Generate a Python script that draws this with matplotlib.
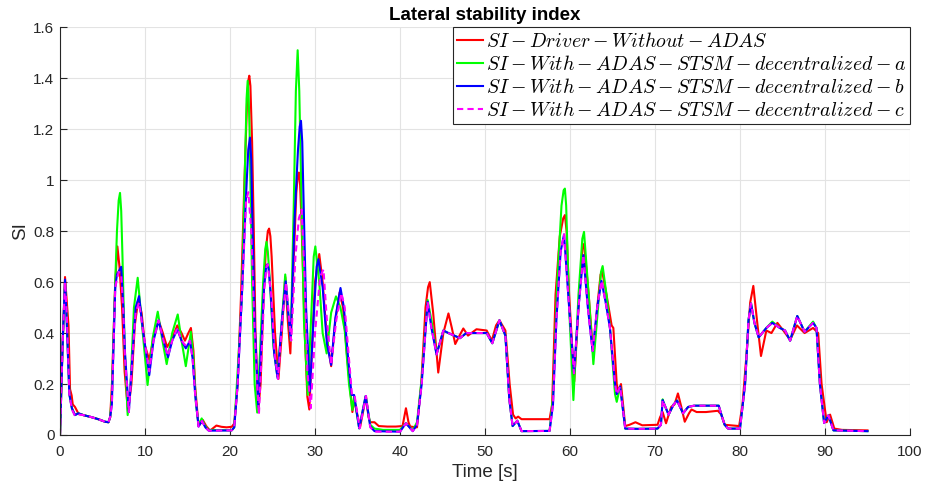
import numpy as np
from matplotlib import pyplot as plt

# ---- data: [time (s), SI] ----
red_pts = np.array([
    [0, 0], [0.3, 0.35], [0.59, 0.62], [0.8, 0.52], [1.0, 0.43], [1.18, 0.18], [1.37, 0.155],
    [1.5, 0.12], [1.76, 0.11], [2.15, 0.085], [2.75, 0.078], [3.7, 0.07], [4.5, 0.062],
    [5.3, 0.052], [5.7, 0.05], [5.9, 0.07], [6.1, 0.19], [6.3, 0.4], [6.5, 0.6], [6.75, 0.74],
    [7.0, 0.66], [7.3, 0.5], [7.6, 0.25], [8.0, 0.09], [8.4, 0.2], [8.8, 0.43], [9.2, 0.53],
    [9.6, 0.48], [10.0, 0.35], [10.5, 0.295], [11.0, 0.38], [11.6, 0.45], [12.1, 0.4],
    [12.6, 0.345], [13.2, 0.38], [13.8, 0.43], [14.3, 0.4], [14.7, 0.37], [15.1, 0.4],
    [15.4, 0.42], [15.7, 0.33], [15.9, 0.19], [16.3, 0.035], [16.8, 0.059], [17.2, 0.035],
    [17.65, 0.017], [18.4, 0.037], [19.0, 0.032], [19.6, 0.03], [20.2, 0.032], [20.5, 0.045],
    [20.9, 0.2], [21.3, 0.55], [21.7, 1.0], [22.0, 1.3], [22.15, 1.39], [22.27, 1.41],
    [22.4, 1.37], [22.6, 1.15], [22.8, 0.8], [23.0, 0.4], [23.33, 0.1], [23.6, 0.2],
    [23.9, 0.5], [24.2, 0.72], [24.45, 0.8], [24.6, 0.81], [24.75, 0.78], [24.9, 0.7],
    [25.3, 0.4], [25.7, 0.22], [26.1, 0.4], [26.5, 0.62], [26.8, 0.45], [27.1, 0.32],
    [27.4, 0.6], [27.8, 0.95], [27.95, 1.01], [28.1, 1.03], [28.25, 0.98], [28.4, 0.85],
    [28.8, 0.4], [29.1, 0.15], [29.33, 0.1], [29.6, 0.3], [30.0, 0.6], [30.5, 0.71],
    [30.9, 0.6], [31.4, 0.38], [31.9, 0.27], [32.4, 0.45], [32.9, 0.56], [33.3, 0.5],
    [33.8, 0.3], [34.4, 0.09], [34.6, 0.14], [35.3, 0.03], [36.0, 0.15], [36.3, 0.07],
    [36.5, 0.05], [37.0, 0.05], [37.5, 0.035], [38.5, 0.033], [39.5, 0.033], [40.3, 0.035],
    [40.7, 0.105], [41.0, 0.05], [41.2, 0.033], [42.0, 0.03], [42.5, 0.2], [43.0, 0.5],
    [43.3, 0.58], [43.5, 0.6], [43.9, 0.48], [44.5, 0.245], [45.1, 0.4], [45.7, 0.477],
    [46.1, 0.42], [46.5, 0.357], [47.0, 0.39], [47.45, 0.418], [48.0, 0.39], [49.0, 0.415],
    [50.2, 0.41], [50.8, 0.37], [51.3, 0.43], [51.7, 0.45], [52.4, 0.41], [52.9, 0.2],
    [53.3, 0.08], [53.6, 0.065], [53.9, 0.072], [54.3, 0.062], [55.0, 0.062], [57.6, 0.062],
    [57.9, 0.12], [58.3, 0.55], [58.8, 0.78], [59.2, 0.85], [59.4, 0.863], [59.6, 0.8],
    [59.9, 0.55], [60.5, 0.21], [61.0, 0.5], [61.45, 0.73], [61.65, 0.75], [62.2, 0.55],
    [62.75, 0.307], [63.2, 0.5], [63.6, 0.63], [63.8, 0.64], [64.3, 0.55], [64.9, 0.43],
    [65.1, 0.42], [65.5, 0.2], [65.7, 0.17], [66.0, 0.2], [66.5, 0.035], [67.0, 0.04],
    [67.7, 0.05], [68.5, 0.038], [70.3, 0.04], [70.6, 0.07], [70.9, 0.09], [71.3, 0.046],
    [71.9, 0.11], [72.3, 0.12], [72.7, 0.163], [73.1, 0.11], [73.5, 0.052], [74.0, 0.085],
    [74.3, 0.1], [74.9, 0.09], [76.0, 0.09], [77.4, 0.095], [77.8, 0.08], [78.2, 0.04],
    [79.9, 0.035], [80.3, 0.12], [80.8, 0.33], [81.2, 0.52], [81.57, 0.585], [82.0, 0.45],
    [82.47, 0.31], [83.1, 0.41], [83.7, 0.40], [84.4, 0.44], [85.1, 0.41], [85.9, 0.373],
    [86.7, 0.43], [87.6, 0.40], [88.6, 0.42], [89.2, 0.40], [89.6, 0.2], [90.2, 0.05],
    [90.6, 0.08], [91.1, 0.025], [92.0, 0.02], [95.0, 0.018],
])

green_pts = np.array([
    [0, 0], [0.3, 0.35], [0.59, 0.6], [0.8, 0.45], [1.1, 0.16], [1.4, 0.105], [1.76, 0.078],
    [2.15, 0.085], [2.75, 0.078], [3.7, 0.07], [4.5, 0.062], [5.3, 0.052], [5.7, 0.05],
    [5.9, 0.07], [6.1, 0.15], [6.4, 0.5], [6.7, 0.8], [6.9, 0.92], [7.06, 0.95], [7.2, 0.88],
    [7.35, 0.7], [7.6, 0.35], [7.96, 0.078], [8.3, 0.2], [8.7, 0.5], [9.14, 0.617],
    [9.6, 0.45], [10.3, 0.196], [10.9, 0.38], [11.5, 0.484], [12.0, 0.38], [12.55, 0.278],
    [13.2, 0.4], [13.85, 0.473], [14.3, 0.37], [14.8, 0.27], [15.4, 0.405], [15.7, 0.3],
    [16.0, 0.12], [16.3, 0.04], [16.67, 0.065], [17.0, 0.04], [17.4, 0.02], [20.2, 0.018],
    [20.5, 0.03], [20.9, 0.25], [21.4, 0.54], [21.8, 1.1], [21.95, 1.32], [22.08, 1.39],
    [22.2, 1.32], [22.3, 1.2], [22.6, 0.6], [22.9, 0.2], [23.2, 0.088], [23.5, 0.3],
    [23.9, 0.6], [24.15, 0.73], [24.3, 0.758], [24.45, 0.72], [24.7, 0.6], [25.1, 0.35],
    [25.57, 0.23], [26.0, 0.4], [26.5, 0.63], [26.8, 0.5], [27.14, 0.37], [27.5, 0.9],
    [27.75, 1.35], [27.96, 1.51], [28.15, 1.35], [28.3, 1.1], [28.7, 0.45], [29.14, 0.157],
    [29.6, 0.5], [29.85, 0.7], [30.04, 0.74], [30.5, 0.6], [30.9, 0.4], [31.37, 0.32],
    [31.9, 0.48], [32.47, 0.544], [33.0, 0.5], [33.5, 0.41], [34.0, 0.2], [34.4, 0.098],
    [34.6, 0.15], [35.2, 0.026], [35.96, 0.153], [36.5, 0.04], [37.0, 0.025], [38.0, 0.02],
    [40.0, 0.02], [40.7, 0.046], [41.5, 0.018], [42.0, 0.05], [42.55, 0.22], [43.25, 0.53],
    [43.7, 0.45], [44.3, 0.316], [45.1, 0.41], [45.7, 0.40], [47.06, 0.38], [47.8, 0.40],
    [49.0, 0.40], [50.2, 0.40], [50.86, 0.36], [51.7, 0.45], [52.4, 0.39], [52.86, 0.14],
    [53.25, 0.035], [53.8, 0.056], [54.3, 0.015], [57.6, 0.016], [58.0, 0.15], [58.5, 0.6],
    [59.0, 0.9], [59.25, 0.96], [59.4, 0.967], [59.55, 0.9], [59.9, 0.5], [60.4, 0.137],
    [61.0, 0.55], [61.45, 0.77], [61.65, 0.797], [62.2, 0.55], [62.75, 0.278], [63.3, 0.5],
    [63.65, 0.64], [63.84, 0.663], [64.3, 0.55], [64.7, 0.42], [65.3, 0.16], [65.5, 0.13],
    [65.9, 0.19], [66.5, 0.025], [68.0, 0.024], [70.3, 0.025], [70.7, 0.04], [70.9, 0.14],
    [71.1, 0.12], [71.6, 0.08], [72.2, 0.12], [72.6, 0.135], [73.3, 0.085], [73.9, 0.11],
    [74.6, 0.115], [77.5, 0.115], [77.9, 0.07], [78.2, 0.04], [78.6, 0.025], [80.0, 0.025],
    [80.6, 0.2], [81.0, 0.45], [81.3, 0.516], [81.7, 0.44], [82.2, 0.383], [83.1, 0.42],
    [83.8, 0.445], [84.7, 0.42], [85.3, 0.41], [85.9, 0.37], [86.74, 0.467], [87.6, 0.405],
    [88.6, 0.445], [89.0, 0.42], [89.4, 0.2], [89.9, 0.047], [90.4, 0.077], [91.0, 0.018],
    [95.0, 0.015],
])

blue_pts = np.array([
    [0, 0], [0.3, 0.35], [0.59, 0.61], [0.78, 0.45], [1.1, 0.16], [1.4, 0.105], [1.76, 0.078],
    [2.15, 0.085], [2.75, 0.078], [3.7, 0.07], [4.5, 0.062], [5.3, 0.052], [5.7, 0.05],
    [5.9, 0.07], [6.1, 0.12], [6.5, 0.58], [6.7, 0.63], [7.2, 0.66], [7.45, 0.5],
    [7.65, 0.32], [8.1, 0.09], [8.5, 0.3], [8.9, 0.5], [9.3, 0.545], [9.8, 0.4],
    [10.5, 0.235], [11.0, 0.37], [11.6, 0.45], [12.1, 0.38], [12.7, 0.305], [13.2, 0.37],
    [13.8, 0.414], [14.3, 0.37], [14.8, 0.34], [15.3, 0.37], [15.6, 0.3], [15.9, 0.16],
    [16.3, 0.033], [16.7, 0.055], [17.1, 0.03], [17.5, 0.017], [20.2, 0.018], [20.5, 0.03],
    [20.9, 0.2], [21.4, 0.55], [21.9, 0.95], [22.15, 1.12], [22.35, 1.167], [22.5, 1.08],
    [22.6, 0.9], [22.9, 0.45], [23.33, 0.11], [23.6, 0.3], [24.0, 0.58], [24.25, 0.66],
    [24.4, 0.67], [24.55, 0.65], [24.8, 0.55], [25.2, 0.32], [25.6, 0.223], [26.1, 0.45],
    [26.55, 0.603], [26.85, 0.48], [27.14, 0.374], [27.6, 0.85], [28.0, 1.12], [28.2, 1.21],
    [28.35, 1.233], [28.5, 1.15], [28.6, 1.0], [28.95, 0.5], [29.4, 0.17], [29.9, 0.5],
    [30.2, 0.66], [30.4, 0.69], [30.9, 0.58], [31.4, 0.36], [31.9, 0.275], [32.4, 0.46],
    [33.0, 0.577], [33.4, 0.5], [33.9, 0.3], [34.3, 0.157], [34.6, 0.157], [35.2, 0.026],
    [35.96, 0.153], [36.5, 0.033], [37.0, 0.015], [40.0, 0.013], [40.7, 0.046], [41.5, 0.015],
    [42.0, 0.04], [42.55, 0.2], [43.25, 0.523], [43.7, 0.42], [44.3, 0.316], [45.1, 0.41],
    [45.7, 0.40], [47.06, 0.38], [47.8, 0.40], [49.0, 0.40], [50.2, 0.40], [50.86, 0.36],
    [51.7, 0.45], [52.4, 0.39], [52.86, 0.14], [53.25, 0.035], [53.8, 0.056], [54.3, 0.015],
    [57.6, 0.016], [58.0, 0.12], [58.4, 0.45], [58.9, 0.72], [59.3, 0.787], [59.9, 0.5],
    [60.47, 0.242], [61.0, 0.5], [61.57, 0.706], [62.1, 0.5], [62.66, 0.33], [63.2, 0.5],
    [63.7, 0.605], [64.2, 0.52], [64.7, 0.42], [65.3, 0.2], [65.5, 0.16], [65.9, 0.19],
    [66.5, 0.025], [68.0, 0.024], [70.3, 0.025], [70.7, 0.04], [70.9, 0.137], [71.1, 0.12],
    [71.6, 0.08], [72.2, 0.12], [72.6, 0.135], [73.3, 0.085], [73.9, 0.11], [74.6, 0.115],
    [77.5, 0.115], [77.9, 0.07], [78.2, 0.04], [78.6, 0.025], [80.0, 0.025], [80.6, 0.2],
    [81.0, 0.45], [81.3, 0.516], [81.7, 0.44], [82.2, 0.383], [83.1, 0.42], [83.8, 0.44],
    [84.7, 0.42], [85.3, 0.41], [85.9, 0.37], [86.74, 0.467], [87.6, 0.405], [88.6, 0.44],
    [89.0, 0.42], [89.4, 0.2], [89.9, 0.047], [90.4, 0.077], [91.0, 0.018], [95.0, 0.015],
])

magenta_pts = np.array([
    [0, 0], [0.3, 0.35], [0.59, 0.6], [0.8, 0.47], [1.1, 0.16], [1.4, 0.1], [1.76, 0.075],
    [2.15, 0.08], [2.75, 0.078], [3.7, 0.07], [4.5, 0.062], [5.3, 0.052], [5.7, 0.05],
    [5.9, 0.07], [6.1, 0.12], [6.5, 0.58], [6.9, 0.64], [7.2, 0.63], [7.45, 0.48],
    [7.65, 0.3], [8.1, 0.09], [8.5, 0.3], [8.9, 0.48], [9.3, 0.52], [9.8, 0.4],
    [10.5, 0.25], [11.0, 0.37], [11.6, 0.45], [12.1, 0.38], [12.7, 0.31], [13.2, 0.37],
    [13.8, 0.42], [14.3, 0.37], [14.8, 0.35], [15.3, 0.37], [15.6, 0.3], [15.9, 0.16],
    [16.3, 0.033], [16.7, 0.055], [17.1, 0.03], [17.5, 0.017], [20.2, 0.018], [20.5, 0.03],
    [20.9, 0.2], [21.4, 0.55], [21.9, 0.92], [22.16, 0.953], [22.5, 0.8], [22.9, 0.4],
    [23.4, 0.08], [23.7, 0.3], [24.05, 0.58], [24.3, 0.66], [24.45, 0.67], [24.85, 0.55],
    [25.25, 0.32], [25.65, 0.22], [26.15, 0.45], [26.6, 0.6], [26.9, 0.48], [27.2, 0.37],
    [27.7, 0.7], [28.1, 0.85], [28.43, 0.885], [28.8, 0.6], [29.1, 0.25], [29.5, 0.105],
    [30.0, 0.4], [30.6, 0.62], [31.0, 0.65], [31.4, 0.45], [31.9, 0.275], [32.5, 0.45],
    [33.1, 0.557], [33.5, 0.5], [34.0, 0.3], [34.35, 0.157], [34.65, 0.157], [35.25, 0.026],
    [36.0, 0.153], [36.5, 0.03], [37.0, 0.013], [40.0, 0.013], [40.7, 0.046], [41.5, 0.015],
    [42.0, 0.04], [42.55, 0.2], [43.25, 0.523], [43.7, 0.42], [44.3, 0.316], [45.1, 0.41],
    [45.7, 0.40], [47.06, 0.38], [47.8, 0.40], [49.0, 0.40], [50.2, 0.40], [50.86, 0.36],
    [51.7, 0.45], [52.4, 0.39], [52.86, 0.14], [53.25, 0.035], [53.8, 0.056], [54.3, 0.015],
    [57.6, 0.016], [58.0, 0.12], [58.4, 0.45], [58.9, 0.72], [59.3, 0.787], [59.9, 0.5],
    [60.47, 0.242], [61.0, 0.5], [61.57, 0.706], [62.1, 0.5], [62.66, 0.33], [63.2, 0.5],
    [63.7, 0.605], [64.2, 0.52], [64.7, 0.42], [65.3, 0.2], [65.5, 0.16], [65.9, 0.19],
    [66.5, 0.025], [68.0, 0.024], [70.3, 0.025], [70.7, 0.04], [70.9, 0.137], [71.1, 0.12],
    [71.6, 0.08], [72.2, 0.12], [72.6, 0.135], [73.3, 0.085], [73.9, 0.11], [74.6, 0.115],
    [77.5, 0.115], [77.9, 0.07], [78.2, 0.04], [78.6, 0.025], [80.0, 0.025], [80.6, 0.2],
    [81.0, 0.45], [81.3, 0.516], [81.7, 0.44], [82.2, 0.383], [83.1, 0.42], [83.8, 0.44],
    [84.7, 0.42], [85.3, 0.41], [85.9, 0.37], [86.74, 0.467], [87.6, 0.405], [88.6, 0.44],
    [89.0, 0.42], [89.4, 0.2], [89.9, 0.047], [90.4, 0.077], [91.0, 0.018], [95.0, 0.015],
])

labels = [
    r"$SI - Driver - Without - ADAS$",
    r"$SI - With - ADAS - STSM - decentralized - a$",
    r"$SI - With - ADAS - STSM - decentralized - b$",
    r"$SI - With - ADAS - STSM - decentralized - c$",
]
x_ticks = np.arange(0, 101, 10)
y_ticks = np.arange(0, 1.61, 0.2)
y_tick_labels = ["0", "0.2", "0.4", "0.6", "0.8", "1", "1.2", "1.4", "1.6"]

plt.rcParams["font.family"] = ["Liberation Sans", "DejaVu Sans"]
plt.rcParams["mathtext.fontset"] = "cm"

fig = plt.figure(figsize=(9.26, 4.92), dpi=100)
ax = fig.add_axes([0.0648, 0.1159, 0.9179, 0.8286])

ax.plot(red_pts[:, 0], red_pts[:, 1], color=(1, 0, 0), lw=1.5, label=labels[0])
ax.plot(green_pts[:, 0], green_pts[:, 1], color=(0, 1, 0), lw=1.5, label=labels[1])
ax.plot(blue_pts[:, 0], blue_pts[:, 1], color=(0, 0, 1), lw=1.5, label=labels[2])
ax.plot(magenta_pts[:, 0], magenta_pts[:, 1], color=(1, 0, 1), lw=1.5, ls="--",
        dashes=(3, 2), label=labels[3])

ax.set_xlim(0, 100)
ax.set_ylim(0, 1.6)
ax.set_xticks(x_ticks)
ax.set_yticks(y_ticks)
ax.set_yticklabels(y_tick_labels)
ax.grid(True, color="#e3e3e3", lw=0.8)
ax.set_axisbelow(True)

for side in ["top", "right"]:
    ax.spines[side].set_visible(False)
for side in ["left", "bottom"]:
    ax.spines[side].set_color("#262626")
    ax.spines[side].set_linewidth(0.8)
ax.tick_params(direction="in", length=5, width=0.8, colors="#262626",
               labelsize=11, pad=4)
ax.tick_params(axis="x", pad=7)

ax.set_xlabel("Time [s]", fontsize=13.5, color="#262626", labelpad=4)
ax.set_ylabel("SI", fontsize=13.5, color="#262626", labelpad=3)
ax.set_title("Lateral stability index", fontsize=13.5, fontweight="bold", pad=5)

leg = ax.legend(loc="upper right", bbox_to_anchor=(1.0, 1.0), fontsize=14.3,
                fancybox=False, framealpha=1, edgecolor="#262626",
                borderaxespad=0, handlelength=1.3, handletextpad=0.12,
                labelspacing=0.2, borderpad=0.22)
leg.get_frame().set_linewidth(0.8)

fig.savefig("out.png", dpi=100)
